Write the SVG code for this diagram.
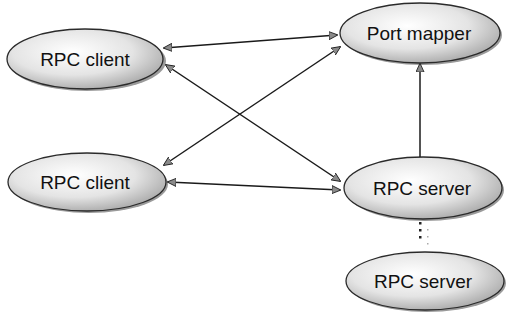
<svg xmlns="http://www.w3.org/2000/svg" width="506" height="320" viewBox="0 0 506 320">
<defs>
<radialGradient id="shade" cx="0.42" cy="0.38" r="0.7">
<stop offset="0" stop-color="#ffffff"/>
<stop offset="0.55" stop-color="#e4e4e4"/>
<stop offset="1" stop-color="#a0a0a0"/>
</radialGradient>
<marker id="ah" viewBox="0 0 10 10" refX="9" refY="5" markerWidth="9" markerHeight="9" markerUnits="userSpaceOnUse" orient="auto-start-reverse">
<path d="M0,0.5 L10,5 L0,9.5 Z" fill="#8a8a8a" stroke="#222" stroke-width="1"/>
</marker>
<style>
.node ellipse{fill:url(#shade);stroke:#2a2a2a;stroke-width:1.3}
.node .sh{fill:#9a9a9a;stroke:none}
.node text{font-family:"Liberation Sans",Arial,sans-serif;font-size:19px;fill:#111;text-anchor:middle}
.edge{stroke:#1a1a1a;stroke-width:1.5;fill:none}
</style>
</defs>
<g id="client1" class="node">
<ellipse class="sh" cx="87" cy="61" rx="79" ry="30"/>
<ellipse cx="85" cy="59" rx="78" ry="30"/>
<text x="85" y="66">RPC client</text>
</g>
<g id="client2" class="node">
<ellipse class="sh" cx="89" cy="184" rx="79" ry="29"/>
<ellipse cx="87" cy="182" rx="79" ry="29"/>
<text x="85" y="189">RPC client</text>
</g>
<g id="portmapper" class="node">
<ellipse class="sh" cx="422" cy="35" rx="80" ry="30"/>
<ellipse cx="420" cy="33" rx="80" ry="30"/>
<text x="419" y="40">Port mapper</text>
</g>
<g id="server1" class="node">
<ellipse class="sh" cx="425" cy="190" rx="79" ry="31"/>
<ellipse cx="423" cy="188" rx="79" ry="31"/>
<text x="422" y="195">RPC server</text>
</g>
<g id="server2" class="node">
<ellipse class="sh" cx="427" cy="283" rx="79" ry="29"/>
<ellipse cx="425" cy="281" rx="79" ry="29"/>
<text x="423" y="288">RPC server</text>
</g>
<g id="connectors">
<line class="edge" x1="164" y1="48" x2="337" y2="35" marker-start="url(#ah)" marker-end="url(#ah)"/>
<line class="edge" x1="166" y1="65" x2="340" y2="181" marker-start="url(#ah)" marker-end="url(#ah)"/>
<line class="edge" x1="164" y1="165" x2="340" y2="47" marker-start="url(#ah)" marker-end="url(#ah)"/>
<line class="edge" x1="168" y1="182" x2="340" y2="190" marker-start="url(#ah)" marker-end="url(#ah)"/>
<line class="edge" x1="420" y1="157" x2="420" y2="64" marker-end="url(#ah)"/>
<g fill="#222">
<rect x="419" y="222" width="2.5" height="2.5"/>
<rect x="419" y="229" width="2.5" height="2.5"/>
<rect x="419" y="236" width="2.5" height="2.5"/>
</g>
<g fill="#aaa">
<rect x="427" y="229" width="1.5" height="1.5"/>
<rect x="427" y="236" width="1.5" height="1.5"/>
<rect x="427" y="243" width="1.5" height="1.5"/>
</g>
</g>
</svg>
